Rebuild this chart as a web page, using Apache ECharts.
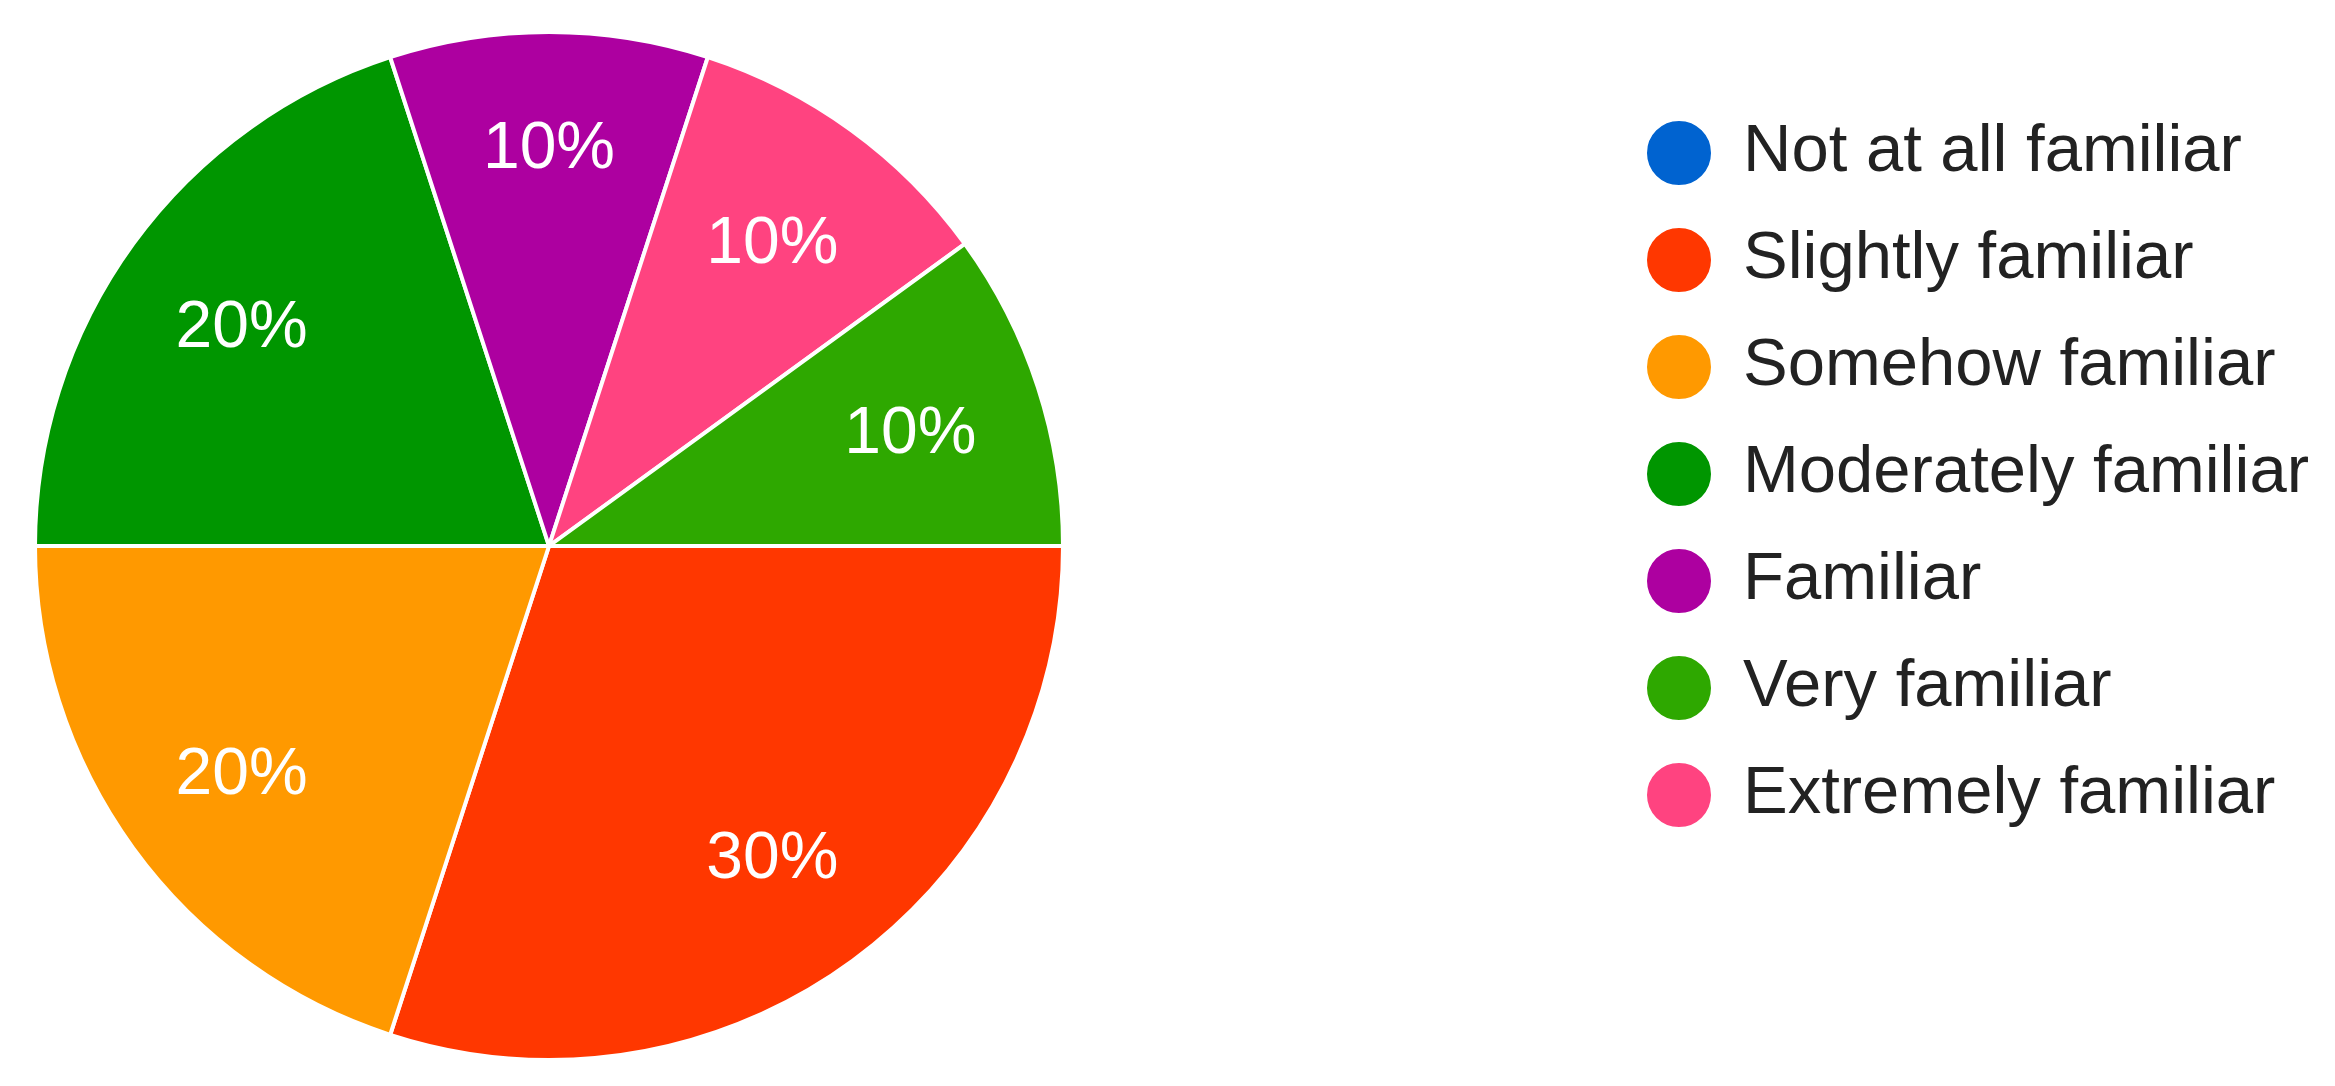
<!DOCTYPE html>
<html>
<head>
<meta charset="utf-8">
<script src="https://cdn.jsdelivr.net/npm/echarts@6/dist/echarts.min.js"></script>
<style>
    html, body { margin: 0; padding: 0; background: #fff; }
    #piechart { width: 2335px; height: 1086px; }
</style>
</head>
<body>
<div id="piechart"></div>
<script>
// 图例顺序
var categories = ['Not at all familiar', 'Slightly familiar', 'Somehow familiar', 'Moderately familiar', 'Familiar', 'Very familiar', 'Extremely familiar'];
// 百分比（与 categories 对应）
var percents = [0, 30, 20, 20, 10, 10, 10];
var colors = ['#0063d0', '#ff3700', '#ff9900', '#009600', '#ad00a0', '#2ea800', '#ff4380'];
// 扇区绘制顺序（从 3 点钟方向顺时针）
var sliceOrder = ['Not at all familiar', 'Slightly familiar', 'Somehow familiar', 'Moderately familiar', 'Familiar', 'Extremely familiar', 'Very familiar'];

;(function(){
    var pieChart = echarts.init(document.getElementById('piechart'));

    var pieData = sliceOrder.map(function(name){
        var i = categories.indexOf(name);
        return {
            name: name,
            value: percents[i],
            itemStyle: { color: colors[i] }
        };
    });

    var option = {
        backgroundColor: '#fff',
        animation: false,
        legend: {
            orient: 'vertical',
            left: 1645,
            top: 119,
            padding: 0,
            itemWidth: 66,
            itemHeight: 66,
            itemGap: 39,
            icon: 'circle',
            selectedMode: false,
            data: categories,
            textStyle: {
                fontFamily: 'Liberation Sans, Arial, sans-serif',
                fontSize: 67,
                color: '#222',
                padding: [0, 0, 0, 26]
            }
        },
        series: [{
            name: 'familiarity',
            type: 'pie',
            center: [549, 546],
            radius: 514,
            startAngle: 0,
            clockwise: true,
            silent: true,
            itemStyle: {
                borderColor: '#fff',
                borderWidth: 4
            },
            label: { show: false },
            labelLine: { show: false },
            data: pieData
        }, {
            // 透明外环，只用来放百分比标签
            name: 'labels',
            type: 'pie',
            center: [549, 546],
            radius: [240, 514],
            startAngle: 0,
            clockwise: true,
            silent: true,
            itemStyle: { color: 'rgba(0,0,0,0)', borderWidth: 0 },
            label: {
                show: true,
                position: 'inside',
                color: '#fff',
                fontFamily: 'Liberation Sans, Arial, sans-serif',
                fontSize: 66,
                offset: [0, 6],
                formatter: function(p){
                    return p.value > 0 ? p.value + '%' : '';
                }
            },
            labelLine: { show: false },
            data: pieData.map(function(d){
                var item = { name: d.name, value: d.value };
                // 顶部扇区的标签略靠外
                if (d.name === 'Familiar') {
                    item.label = { offset: [0, -16] };
                }
                return item;
            })
        }]
    };

    pieChart.setOption(option);
})()
</script>
</body>
</html>
